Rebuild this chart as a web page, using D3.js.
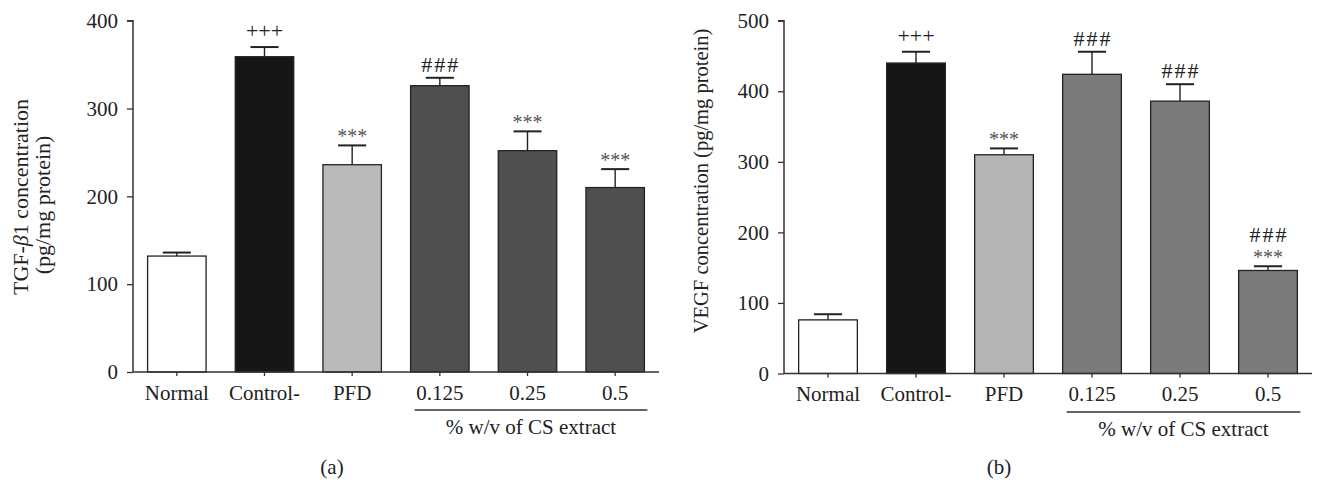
<!DOCTYPE html>
<html>
<head>
<meta charset="utf-8">
<script src="https://cdn.jsdelivr.net/npm/d3@7"></script>
<style>
  html, body { margin: 0; padding: 0; background: #fff; }
  svg text { font-family: "Liberation Serif", "DejaVu Serif", serif; fill: #222; }
</style>
</head>
<body>
<svg id="chart" width="1319" height="484"></svg>
<script>
// ---- data ----
const categories = ["Normal", "Control-", "PFD", "0.125", "0.25", "0.5"];
const extractGroup = ["0.125", "0.25", "0.5"];
const extractLabel = "% w/v of CS extract";

const tgfValues = [132, 359, 236, 326, 252, 210];
const tgfErrors = [4, 11, 22, 9, 22, 21];
const tgfMarks = [[], ["+++"], ["***"], ["###"], ["***"], ["***"]];
const tgfTicks = [0, 100, 200, 300, 400];
const tgfFills = ["#ffffff", "#161616", "#bababa", "#4f4f4f", "#4f4f4f", "#4f4f4f"];

const vegfValues = [76, 440, 310, 424, 386, 146];
const vegfErrors = [8, 16, 9, 32, 24, 6];
const vegfMarks = [[], ["+++"], ["***"], ["###"], ["###"], ["###", "***"]];
const vegfTicks = [0, 100, 200, 300, 400, 500];
const vegfFills = ["#ffffff", "#161616", "#b5b5b5", "#7b7b7b", "#7b7b7b", "#7b7b7b"];

const svg = d3.select("#chart");

function drawPanel(opt) {
  const g = svg.append("g");
  const x = d3.scaleBand().domain(categories).range([opt.x0, opt.x1])
    .paddingInner(0.333).paddingOuter(0.1665);
  const y = d3.scaleLinear().domain([0, d3.max(opt.ticks)]).range([opt.yb, opt.yt]);
  const bw = x.bandwidth();

  const rows = categories.map((c, i) => ({c, v: opt.values[i], e: opt.errors[i], f: opt.fills[i], m: opt.marks[i]}));
  // error bars (behind bars)
  g.selectAll("line.err").data(rows).join("line")
    .attr("x1", d => x(d.c) + bw / 2).attr("x2", d => x(d.c) + bw / 2)
    .attr("y1", d => y(d.v)).attr("y2", d => y(d.v + d.e))
    .attr("stroke", "#222").attr("stroke-width", 1.4);
  g.selectAll("line.cap").data(rows).join("line")
    .attr("x1", d => x(d.c) + bw / 2 - bw * 0.24).attr("x2", d => x(d.c) + bw / 2 + bw * 0.24)
    .attr("y1", d => y(d.v + d.e)).attr("y2", d => y(d.v + d.e))
    .attr("stroke", "#222").attr("stroke-width", 2);
  g.selectAll("rect.bar").data(rows).join("rect")
    .attr("x", d => x(d.c)).attr("width", bw)
    .attr("y", d => y(d.v)).attr("height", d => y(0) - y(d.v))
    .attr("fill", d => d.f).attr("stroke", "#222").attr("stroke-width", 1.3);

  // significance marks
  const off = s => s[0] === "+" ? 9 : (s[0] === "#" ? 6 : 2);
  const fsize = s => s[0] === "*" ? "20px" : "22px";
  rows.forEach(d => {
    let base = y(d.v + d.e);
    const ms = d.m.slice().reverse();
    ms.forEach((s, k) => {
      const by = k === 0 ? base - off(s) : base - 22;
      base = by;
      g.append("text")
        .attr("x", x(d.c) + bw / 2 + (s[0] === "#" ? 1 : 0)).attr("y", by)
        .attr("text-anchor", "middle")
        .style("font-size", fsize(s))
        .style("letter-spacing", s[0] === "#" ? "2px" : "0px")
        .style("fill", s[0] === "*" ? "#555" : "#222")
        .text(s);
    });
  });

  // axes
  const ya = g.append("g").attr("transform", `translate(${opt.x0},0)`)
    .call(d3.axisLeft(y).tickValues(opt.ticks).tickSize(6).tickPadding(9).tickFormat(d3.format("d")));
  const xa = g.append("g").attr("transform", `translate(0,${opt.yb})`)
    .call(d3.axisBottom(x).tickSize(4).tickPadding(9));
  [ya, xa].forEach(a => {
    a.select(".domain").attr("stroke", "#333").attr("stroke-width", 1.5);
    a.selectAll(".tick line").attr("stroke", "#333").attr("stroke-width", 1.3);
    a.selectAll(".tick text").style("font-size", "21px").style("fill", "#222")
      .style("font-family", "'Liberation Serif', serif");
  });
  ya.select(".domain").attr("d", `M-6,${opt.yt}H0V${opt.yb}H0`);
  xa.select(".domain").attr("d", `M${opt.x0},0H${opt.x1}`);

  // bracket for extract group
  const bx1 = x(extractGroup[0]) + 4, bx2 = x(extractGroup[extractGroup.length - 1]) + bw + 3;
  g.append("line").attr("x1", bx1).attr("x2", bx2)
    .attr("y1", opt.bracketY).attr("y2", opt.bracketY)
    .attr("stroke", "#333").attr("stroke-width", 1.5);
  g.append("text").attr("x", (bx1 + bx2) / 2).attr("y", opt.bracketY + 24)
    .attr("text-anchor", "middle").style("font-size", "21px").text(extractLabel);

  // panel letter
  g.append("text").attr("x", opt.letterX).attr("y", 474)
    .attr("text-anchor", "middle").style("font-size", "21px").text(opt.letter);
  return g;
}

const gA = drawPanel({x0: 133, x1: 659, yb: 372, yt: 20.7, values: tgfValues, errors: tgfErrors,
  marks: tgfMarks, ticks: tgfTicks, fills: tgfFills, bracketY: 410, letter: "(a)", letterX: 332});
const gB = drawPanel({x0: 784, x1: 1312, yb: 373.5, yt: 20.7, values: vegfValues, errors: vegfErrors,
  marks: vegfMarks, ticks: vegfTicks, fills: vegfFills, bracketY: 412, letter: "(b)", letterX: 999});

// y titles
const t1 = gA.append("text").attr("transform", "translate(28,197) rotate(-90)")
  .attr("text-anchor", "middle").style("font-size", "22px");
t1.append("tspan").text("TGF-");
t1.append("tspan").style("font-style", "italic").text("β");
t1.append("tspan").text("1 concentration");
gA.append("text").attr("transform", "translate(50,205) rotate(-90)")
  .attr("text-anchor", "middle").style("font-size", "22px").text("(pg/mg protein)");
gB.append("text").attr("transform", "translate(708,181) rotate(-90)")
  .attr("text-anchor", "middle").style("font-size", "20.5px").text("VEGF concentration (pg/mg protein)");
</script>
</body>
</html>
